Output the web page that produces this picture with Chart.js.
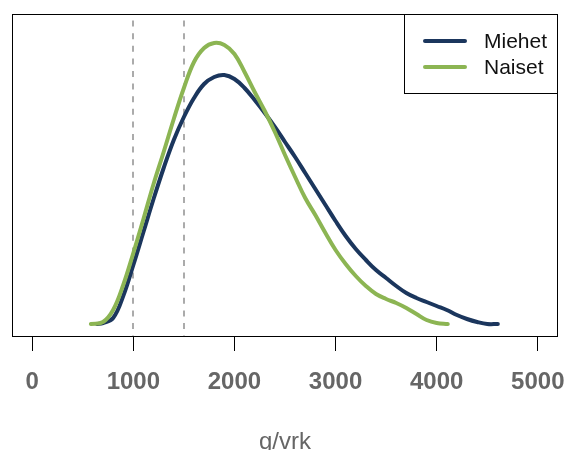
<!DOCTYPE html>
<html>
<head>
<meta charset="utf-8">
<script src="https://cdn.jsdelivr.net/npm/chart.js@4"></script>
<style>
    html, body { margin: 0; padding: 0; background: #fff; }
    #wrap { width: 567px; height: 450px; }
</style>
</head>
<body>
<div id="wrap"><canvas id="densityChart" width="567" height="450"></canvas></div>
<script>
// Intake (g/vrk) and relative density
const miehetX = [640, 700, 800, 900, 1000, 1100, 1200, 1300, 1400, 1500, 1600, 1700, 1800, 1900, 2000, 2100, 2200, 2300, 2400, 2500, 2600, 2700, 2800, 2900, 3000, 3100, 3200, 3300, 3400, 3500, 3600, 3700, 3800, 3900, 4000, 4100, 4200, 4300, 4400, 4500, 4605];
const miehetY = [0, 1, 6, 28, 59, 92, 125, 156, 184, 207, 226, 240, 247, 249, 245, 236, 224, 211, 197, 182, 167, 151, 135, 119, 103, 88, 75, 64, 54, 46, 38, 31, 26, 22, 18, 14, 9, 5, 2, 0, 0];

const naisetX = [580, 700, 800, 900, 1000, 1100, 1200, 1300, 1400, 1500, 1600, 1700, 1800, 1900, 2000, 2100, 2200, 2300, 2400, 2500, 2600, 2700, 2800, 2900, 3000, 3100, 3200, 3300, 3400, 3500, 3600, 3700, 3800, 3900, 4000, 4110];
const naisetY = [0, 2, 14, 39, 71, 105, 140, 172, 205, 236, 262, 276, 281, 279, 270, 252, 232, 213, 192, 169, 147, 126, 109, 91, 74, 60, 48, 38, 30, 25, 21, 16, 10, 4, 1, 0];

const seriesNames = ['Miehet', 'Naiset'];
const seriesColors = ['#1b365d', '#8cb553'];
const xTicks = [0, 1000, 2000, 3000, 4000, 5000];
const refLines = [1000, 1500];

const toPoints = (xs, ys) => xs.map((x, i) => ({ x: x, y: ys[i] }));

// dashed reference lines behind the curves
const refLinePlugin = {
    id: 'refLines',
    beforeDatasetsDraw(chart) {
        const { ctx, chartArea, scales } = chart;
        ctx.save();
        ctx.strokeStyle = '#ababab';
        ctx.lineWidth = 2;
        ctx.setLineDash([6, 6.6]);
        ctx.lineDashOffset = 6;
        refLines.forEach(v => {
            const px = Math.round(scales.x.getPixelForValue(v));
            ctx.beginPath();
            ctx.moveTo(px, chartArea.top);
            ctx.lineTo(px, chartArea.bottom);
            ctx.stroke();
        });
        ctx.restore();
    }
};

// plot frame + boxed legend in the top-right corner
const frameLegendPlugin = {
    id: 'frameLegend',
    afterDraw(chart) {
        const { ctx, chartArea } = chart;
        ctx.save();
        ctx.strokeStyle = '#000';
        ctx.lineWidth = 1;
        ctx.strokeRect(chartArea.left + 0.5, chartArea.top + 0.5,
            chartArea.right - chartArea.left - 1, chartArea.bottom - chartArea.top);

        const boxW = 154, boxH = 79;
        const bx = chartArea.right - boxW, by = chartArea.top;
        ctx.fillStyle = '#fff';
        ctx.fillRect(bx, by, boxW, boxH);
        ctx.strokeRect(bx + 0.5, by + 0.5, boxW - 1, boxH);

        ctx.font = '21px "Liberation Sans", Arial, sans-serif';
        ctx.textBaseline = 'middle';
        ctx.textAlign = 'left';
        ctx.lineCap = 'round';
        chart.data.datasets.forEach((ds, i) => {
            const ly = by + 27 + i * 26;
            ctx.strokeStyle = ds.borderColor;
            ctx.lineWidth = 4;
            ctx.beginPath();
            ctx.moveTo(bx + 21, ly);
            ctx.lineTo(bx + 61, ly);
            ctx.stroke();
            ctx.fillStyle = '#111';
            ctx.fillText(ds.label, bx + 80, ly + 1);
        });
        ctx.restore();
    }
};

Chart.defaults.font.family = '"Liberation Sans", Arial, sans-serif';

new Chart(document.getElementById('densityChart'), {
    type: 'line',
    data: {
        datasets: [
            {
                label: seriesNames[0],
                data: toPoints(miehetX, miehetY),
                borderColor: seriesColors[0],
                order: 1
            },
            {
                label: seriesNames[1],
                data: toPoints(naisetX, naisetY),
                borderColor: seriesColors[1],
                order: 0
            }
        ]
    },
    options: {
        responsive: false,
        animation: false,
        devicePixelRatio: 1,
        layout: { padding: { left: 12, right: 9, top: 14, bottom: 0 } },
        elements: {
            line: { borderWidth: 4, tension: 0.4, borderCapStyle: 'round', borderJoinStyle: 'round', fill: false },
            point: { radius: 0, hoverRadius: 0 }
        },
        plugins: {
            legend: { display: false },
            tooltip: { enabled: false }
        },
        scales: {
            x: {
                type: 'linear',
                min: -200,
                max: 5200,
                afterBuildTicks: s => { s.ticks = xTicks.map(v => ({ value: v })); },
                afterFit: s => { s.height = 114; s.paddingLeft = 0; s.paddingRight = 0; },
                ticks: {
                    color: '#666',
                    font: { size: 24, weight: 'bold' },
                    padding: 17,
                    maxRotation: 0,
                    autoSkip: false,
                    callback: v => String(v)
                },
                grid: { drawOnChartArea: false, drawTicks: true, tickLength: 15, tickColor: '#000', tickWidth: 1 },
                border: { display: false },
                title: { display: true, text: 'g/vrk', color: '#666', font: { size: 24 }, padding: { top: 0, bottom: -7 } }
            },
            y: {
                type: 'linear',
                display: false,
                min: -12,
                max: 310
            }
        }
    },
    plugins: [refLinePlugin, frameLegendPlugin]
});
</script>
</body>
</html>
